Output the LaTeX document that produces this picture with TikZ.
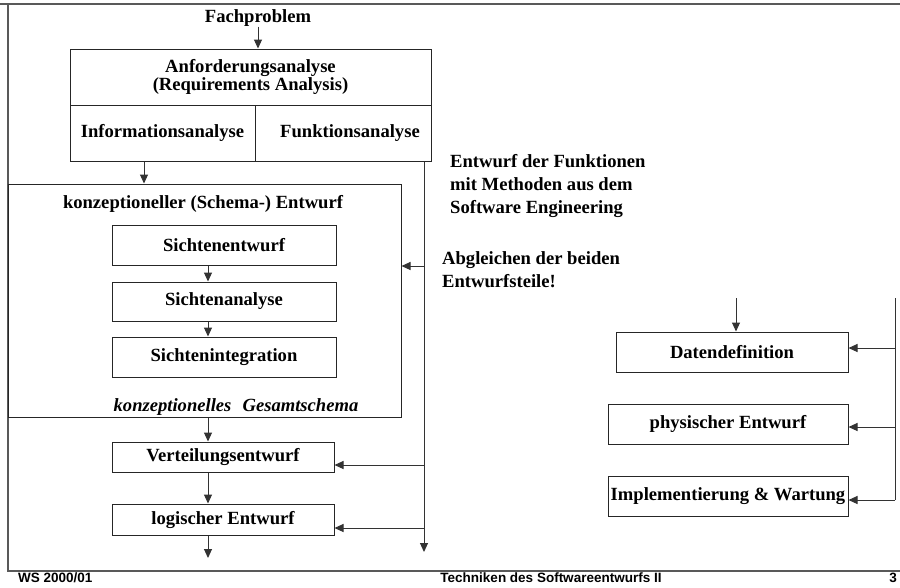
\documentclass[tikz,border=0pt]{standalone}
\usepackage{fontspec}
\setmainfont{Liberation Serif}
\newfontfamily\footfont{Liberation Sans}
\usetikzlibrary{arrows.meta}
\begin{document}
\begin{tikzpicture}[x=1pt,y=-1pt,
  every node/.style={font=\fontsize{18.6}{23}\selectfont\bfseries, inner sep=0pt},
  box/.style={draw=black!85, line width=1pt},
  conn/.style={draw=black!80, line width=1pt},
  arr/.style={conn, -{Triangle[length=9pt,width=8pt]}},
  frame/.style={draw=black!65, line width=2pt},
  foot/.style={font=\footfont\bfseries\fontsize{13.5}{16}\selectfont}]
\useasboundingbox (0,0) rectangle (900,587);
% frame
\draw[frame] (0,4) -- (900,4);
\draw[frame] (8,4) -- (8,571) -- (900,571);
% footer
\node[foot, anchor=base west] (ws) at (18,582) {WS 2000/01};
\node[foot, anchor=base] (tit) at (551,582) {Techniken des Softwareentwurfs II};
\node[foot, anchor=base east] (pg) at (897,582) {3};
% top
\node (fach) at (258,18) {Fachproblem};
\node[box, minimum width=361, minimum height=56, align=center,
      font=\fontsize{18.6}{17}\selectfont\bfseries] (anf) at (250.5,77)
      {Anforderungsanalyse\\(Requirements Analysis)};
\node[box, minimum width=185, minimum height=56] (info) at (162.5,133) {Informationsanalyse};
\node[box, minimum width=176, minimum height=56] (funk) at (343,133) {\hspace*{14pt}Funktionsanalyse};
\draw[arr] (fach.south) -- (fach.south |- anf.north);
% conceptual design
\node[box, minimum width=393, minimum height=233] (konz) at (204.5,300.5) {};
\node (ktitle) at (203,204) {konzeptioneller (Schema-) Entwurf};
\node[box, minimum width=224, minimum height=40] (se) at (224,245) {Sichtenentwurf};
\node[box, minimum width=224, minimum height=39] (sa) at (224,301.5) {Sichtenanalyse};
\node[box, minimum width=224, minimum height=40] (si) at (224,357) {Sichtenintegration};
\node[font=\fontsize{18.6}{23}\selectfont\bfseries\itshape] (gesamt) at (236,407)
      {konzeptionelles\hspace{0.6em}Gesamtschema};
\draw[arr] ([xshift=-18.5pt]info.south) -- ([xshift=-18.5pt]info.south |- konz.north);
\draw[arr] ([xshift=-16pt]se.south) -- ([xshift=-16pt]sa.north);
\draw[arr] ([xshift=-16pt]sa.south) -- ([xshift=-16pt]si.north);
% lower chain
\node[box, minimum width=222, minimum height=30] (vert) at (223,457) {Verteilungsentwurf};
\node[box, minimum width=222, minimum height=31] (log) at (223,519.5) {logischer Entwurf};
\coordinate (logout) at (208,558);
\draw[arr] ([xshift=3.5pt]konz.south) -- ([xshift=-15pt]vert.north);
\draw[arr] ([xshift=-15pt]vert.south) -- ([xshift=-15pt]log.north);
\draw[arr] ([xshift=-15pt]log.south) -- (logout);
% middle feedback line
\coordinate (mbot) at (424,552);
\draw[arr] ([xshift=81pt]funk.south) -- (mbot);
\coordinate (b1) at (424,266);
\coordinate (b2) at (424,465);
\coordinate (b3) at (424,528);
\draw[arr] (b1) -- (b1 -| konz.east);
\draw[arr] (b2) -- (b2 -| vert.east);
\draw[arr] (b3) -- (b3 -| log.east);
% annotations
\node[anchor=north west, align=left] (fn) at (450,154)
  {Entwurf der Funktionen\\mit Methoden aus dem\\Software Engineering};
\node[anchor=north west, align=left] (abg) at (442,251)
  {Abgleichen der beiden\\Entwurfsteile!};
% right side
\node[box, minimum width=232, minimum height=40] (dd) at (732,352) {Datendefinition};
\node[box, minimum width=240, minimum height=40] (pe) at (728,424) {physischer Entwurf};
\node[box, minimum width=240, minimum height=40] (iw) at (728,496) {Implementierung \& Wartung};
\coordinate (rtop) at (895,298);
\coordinate (r1) at (895,348);
\coordinate (r2) at (895,427);
\coordinate (rbot) at (895,500);
\coordinate (ddin) at (736,298);
\draw[conn] (rtop) -- (rbot);
\draw[arr] (r1) -- (r1 -| dd.east);
\draw[arr] (r2) -- (r2 -| pe.east);
\draw[arr] (rbot) -- (rbot -| iw.east);
\draw[arr] (ddin) -- (ddin |- dd.north);
\end{tikzpicture}
\end{document}
